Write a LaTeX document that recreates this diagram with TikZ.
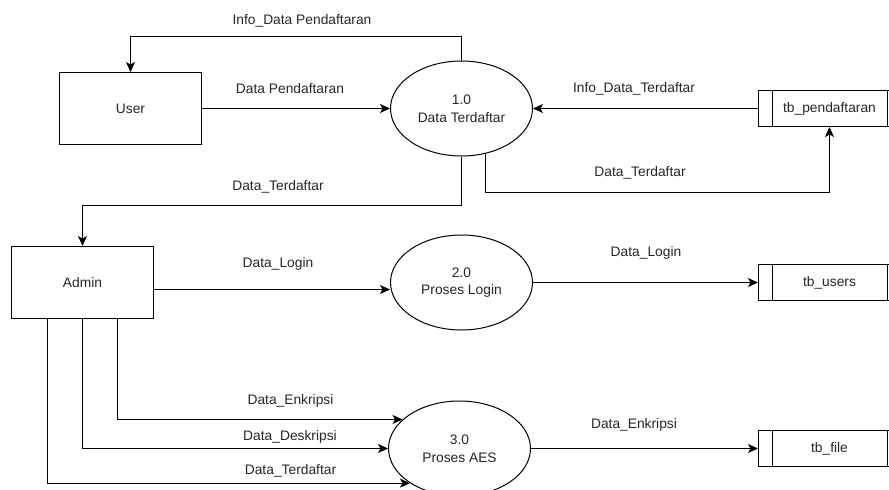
\documentclass[tikz,border=0pt]{standalone}
\usepackage{fontspec}
\setmainfont{Liberation Sans}
\usetikzlibrary{shapes.geometric,arrows.meta}
\begin{document}
\begin{tikzpicture}[x=1pt,y=-1pt,
  every node/.style={font=\fontsize{13.8}{17.5}\selectfont, text=black!85},
  ent/.style={draw, line width=1pt, rectangle, minimum width=142pt, minimum height=72pt, inner sep=0pt},
  proc/.style={draw, line width=1pt, ellipse, minimum width=142pt, minimum height=95pt, inner sep=0pt, align=center},
  store/.style={draw, line width=1pt, rectangle, minimum width=142pt, minimum height=36pt, inner sep=0pt},
  lbl/.style={inner sep=1pt},
  arr/.style={line width=1pt, -{Stealth[length=10pt,width=9pt,inset=2.5pt]}},
  ln/.style={line width=1pt}]
\useasboundingbox (0,0) rectangle (889,490);
\clip (0,0) rectangle (889,490);

% entities
\node[ent] (user) at (130.5,108.5) {User};
\node[ent] (admin) at (82.5,282.5) {Admin};

% processes
\node[proc] (p1) at (461.5,108.5) {1.0\\Data Terdaftar};
\node[proc] (p2) at (461.5,282.5) {2.0\\Proses Login};
\node[proc] (p3) at (459.5,448.5) {3.0\\Proses AES};

% data stores
\node[store] (tbp) at (829.5,108.5) {tb\_pendaftaran};
\node[store] (tbu) at (829.5,282.5) {tb\_users};
\node[store] (tbf) at (829.5,448.5) {tb\_file};
\foreach \s in {tbp,tbu,tbf}{
  \draw[ln] ([xshift=14pt]\s.north west) -- ([xshift=14pt]\s.south west);
  \draw[ln] ([xshift=-14pt]\s.north east) -- ([xshift=-14pt]\s.south east);
}

% bend points
\coordinate (r0) at (130.5,36.5);
\coordinate (r1) at (829.5,192.5);
\coordinate (r2) at (82.5,205.5);

% connectors
\draw[arr] (p1.north) |- (r0) -- (user.north);
\draw[arr] (user.east) -- (p1.west);
\draw[arr] (tbp.west) -- (p1.east);
\draw[arr] (p1.-62) |- (r1) -- (tbp.south);
\draw[arr] (p1.south) |- (r2) -- (admin.north);
\draw[arr] ([yshift=-7pt]admin.east) -- ([yshift=-7pt]p2.west);
\draw[arr] (p2.east) -- (tbu.west);
\draw[arr] (p3.east) -- (tbf.west);
\draw[arr] ([xshift=35pt]admin.south) |- (p3.153);
\draw[arr] (admin.south) |- (p3.west);
\draw[arr] ([xshift=-35pt]admin.south) |- (p3.215);

% labels
\node[lbl] (l1) at (302,21) {Info\_Data Pendaftaran};
\node[lbl] (l2) at (290,89) {Data Pendaftaran};
\node[lbl] (l3) at (634,89) {Info\_Data\_Terdaftar};
\node[lbl] (l4) at (640,172.7) {Data\_Terdaftar};
\node[lbl] (l5) at (278,187) {Data\_Terdaftar};
\node[lbl] (l6) at (278,264) {Data\_Login};
\node[lbl] (l7) at (646,252.7) {Data\_Login};
\node[lbl] (l8) at (290.5,401) {Data\_Enkripsi};
\node[lbl] (l9) at (290,436.7) {Data\_Deskripsi};
\node[lbl] (l10) at (290.5,470.7) {Data\_Terdaftar};
\node[lbl] (l11) at (634,425) {Data\_Enkripsi};
\end{tikzpicture}
\end{document}
